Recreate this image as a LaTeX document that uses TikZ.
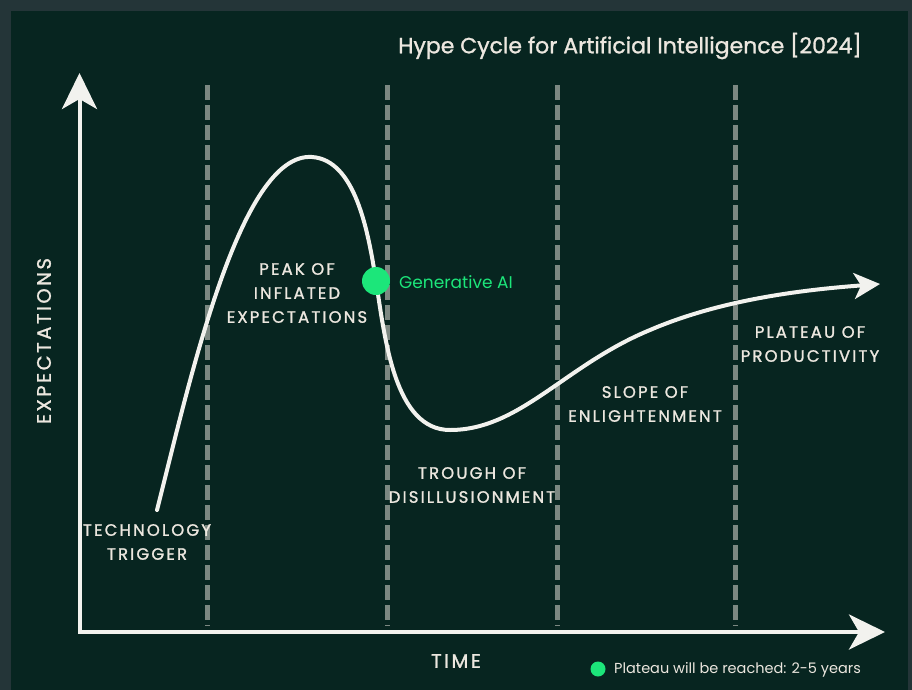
\documentclass[tikz,border=0pt]{standalone}
\usepackage{fontspec}
\setmainfont{Poppins}
\newfontfamily\capsfont[LetterSpace=13,FakeBold=1.3]{Poppins}
\newfontfamily\titlefont[FakeBold=1.2]{Poppins}
\usetikzlibrary{arrows.meta}
\definecolor{bg}{HTML}{072520}
\definecolor{framecol}{HTML}{243538}
\definecolor{ink}{HTML}{ECE7DF}
\definecolor{curvecol}{HTML}{F2F2EE}
\definecolor{guide}{HTML}{7C8882}
\definecolor{hot}{HTML}{1CE67A}
\begin{document}
\begin{tikzpicture}[x=1pt,y=-1pt,
  phase/.style={text=ink, font=\capsfont\fontsize{16.5}{24}\selectfont, align=center, inner sep=0pt},
  axislabel/.style={text=ink, font=\capsfont\fontsize{19.5}{24}\selectfont, inner sep=0pt},
  guideline/.style={guide, line width=5pt, dash pattern=on 15pt off 5pt},
  axisline/.style={draw=curvecol, line width=4pt, line join=miter,
    {Stealth[length=36pt,width=35pt,inset=10pt,fill=curvecol]}-{Stealth[length=36pt,width=35pt,inset=10pt,fill=curvecol]}},
  hypeline/.style={draw=curvecol, line width=4pt, line cap=round,
    -{Stealth[length=26pt,width=26pt,inset=7pt,fill=curvecol]}},
  ]
% frame and background
\fill[framecol] (0,0) rectangle (912,690);
\fill[bg] (11,11) rectangle (908,690);
\useasboundingbox (0,0) rectangle (912,690);

% title
\node[text=ink, font=\titlefont\fontsize{22}{24}\selectfont, inner sep=0pt] (title) at (630,46)
  {Hype Cycle for Artificial Intelligence [2024]};

% phase separators
\foreach \gx in {207,387,557,735}
  \draw[guideline] (\gx,85) -- (\gx,626);

% axes
\coordinate (ytip) at (79.5,73);
\coordinate (origin) at (79.5,632);
\coordinate (xtip) at (885,632);
\draw[axisline] (ytip) -- (origin) -- (xtip);

\node[axislabel, rotate=90] (ylab) at (44,341) {EXPECTATIONS};
\node[axislabel] (xlab) at (456,661) {TIME};

% hype curve
\coordinate (start) at (157,510);
\coordinate (peak) at (312,157);
\coordinate (genpt) at (376,281);
\coordinate (trough) at (450,430);
\coordinate (slope) at (650,330);
\coordinate (plateau) at (880,284);
\draw[hypeline] (start)
  .. controls (190,380) and (240,152) .. (peak)
  .. controls (355,160) and (368,230) .. (genpt)
  .. controls (385,340) and (395,430) .. (trough)
  .. controls (520,430) and (565,365) .. (slope)
  .. controls (720,300) and (800,290) .. (plateau);

% phase labels
\node[phase] (trigger) at (147,542) {TECHNOLOGY\\TRIGGER};
\node[phase] (peaklab) at (297,293) {PEAK OF\\INFLATED\\EXPECTATIONS};
\node[phase] (troughlab) at (472,485) {TROUGH OF\\DISILLUSIONMENT};
\node[phase] (slopelab) at (645,404) {SLOPE OF\\ENLIGHTENMENT};
\node[phase] (plateaulab) at (810,344) {PLATEAU OF\\PRODUCTIVITY};

% technology marker
\node[circle, fill=hot, minimum size=28pt, inner sep=0pt] (genai) at (genpt) {};
\node[anchor=west, text=hot, font=\fontsize{17}{20}\selectfont, inner sep=0pt] (genailab)
  at (399,282) {Generative AI};

% legend
\node[circle, fill=hot, minimum size=15pt, inner sep=0pt] (key) at (598,669) {};
\node[anchor=west, text=ink, font=\fontsize{14.5}{18}\selectfont, inner sep=0pt] (keylab)
  at (614,670) {Plateau will be reached: 2-5 years};
\end{tikzpicture}
\end{document}
